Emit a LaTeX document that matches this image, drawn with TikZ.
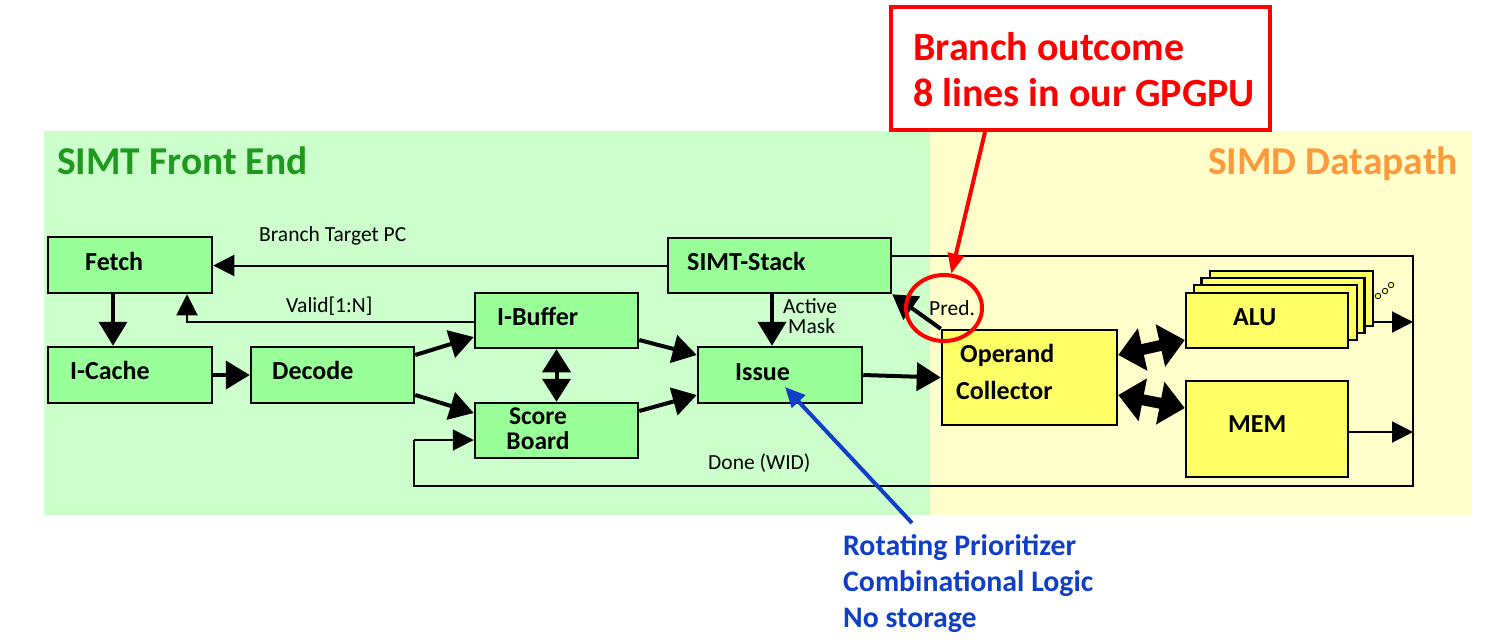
\documentclass[tikz,border=0pt]{standalone}
\usepackage{fontspec}
\setmainfont{Carlito}
\usetikzlibrary{arrows.meta,shapes.geometric}
\definecolor{bggreen}{HTML}{CCFFCC}
\definecolor{boxgreen}{HTML}{99FF99}
\definecolor{bgyellow}{HTML}{FFFFCC}
\definecolor{boxyellow}{HTML}{FFFF66}
\definecolor{titlegreen}{HTML}{1F9A1F}
\definecolor{titleorange}{HTML}{FF9A3C}
\definecolor{bluetext}{HTML}{0F3FC8}
\definecolor{redc}{HTML}{FF0000}
\begin{document}
\begin{tikzpicture}[x=1pt,y=-1pt,
  gbox/.style={draw=black, line width=2.5pt, fill=boxgreen, inner sep=0pt},
  ybox/.style={draw=black, line width=2.5pt, fill=boxyellow, inner sep=0pt},
  blabel/.style={font=\fontsize{26}{30}\selectfont\bfseries, inner sep=0pt, anchor=base west},
  slabel/.style={font=\fontsize{21.5}{25}\selectfont, inner sep=0pt, anchor=base west},
  tarrow/.style={line width=4pt, -{Triangle[length=24pt,width=28pt]}},
  tdarrow/.style={line width=4pt, {Triangle[length=23pt,width=28pt]}-{Triangle[length=23pt,width=28pt]}},
  narrow/.style={line width=2pt, -{Triangle[length=21pt,width=21pt]}},
  fatarrow/.style={line width=11pt, {Triangle[length=25pt,width=42pt]}-{Triangle[length=25pt,width=42pt]}},
  ]
\useasboundingbox (0,0) rectangle (1503,641);
% backgrounds
\fill[bggreen] (44,131) rectangle (930,515);
\fill[bgyellow] (930,131) rectangle (1472,515);
\node[font=\fontsize{39.5}{44}\selectfont\bfseries, text=titlegreen, inner sep=0pt, anchor=base west] (titleL) at (57,174) {SIMT Front End};
\node[font=\fontsize{39.5}{44}\selectfont\bfseries, text=titleorange, inner sep=0pt, anchor=base east] (titleR) at (1458,174) {SIMD Datapath};
% boxes
\node[gbox, minimum width=164pt, minimum height=56pt] (fetch) at (130,265) {};
\node[gbox, minimum width=164pt, minimum height=56pt] (icache) at (130,375) {};
\node[gbox, minimum width=163pt, minimum height=56pt] (decode) at (332.5,375) {};
\node[gbox, minimum width=163pt, minimum height=55pt] (ibuf) at (556.5,320.5) {};
\node[gbox, minimum width=163pt, minimum height=55pt] (score) at (556.5,430.5) {};
\node[gbox, minimum width=164pt, minimum height=56pt] (issue) at (780,375) {};
\node[gbox, minimum width=223pt, minimum height=55pt] (simt) at (779.5,265.5) {};
\node[ybox, minimum width=175pt, minimum height=95pt] (oc) at (1029.5,377.5) {};
\node[ybox, minimum width=163pt, minimum height=55pt] (alu4) at (1291.5,298.5) {};
\node[ybox, minimum width=163pt, minimum height=55pt] (alu3) at (1283,305.5) {};
\node[ybox, minimum width=163pt, minimum height=55pt] (alu2) at (1275.5,312.5) {};
\node[ybox, minimum width=162pt, minimum height=55pt] (alu) at (1267,320.5) {};
\node[ybox, minimum width=162pt, minimum height=96pt] (mem) at (1267,429) {};
% dots
\foreach \p/\n in {{(1378,296)}/d1,{(1385,291)}/d2,{(1391,285)}/d3}
  \node[circle, draw=black, line width=0.8pt, fill=boxyellow, minimum size=5.5pt, inner sep=0pt] (\n) at \p {};
% frame coordinates
\coordinate (fr1) at (1413,256);
\coordinate (fr2) at (1413,486);
\coordinate (fr3) at (414,486);
\coordinate (fr4) at (414,440);
\coordinate (aluout) at (1413,322);
\coordinate (memout) at (1413,432);
% frame
\draw[line width=2pt] ([yshift=9.5pt]simt.east) -- (fr1) -- (fr2) -- (fr3) -- (fr4);
\draw[narrow] (fr4) -- ([yshift=-9.5pt]score.west);
\draw[narrow] ([yshift=-23.5pt]alu4.east) -- (aluout);
\draw[narrow] ([yshift=-3pt]mem.east) -- (memout);
% thin arrows
\draw[narrow] (simt.west) -- (simt.west -| fetch.east);
\draw[narrow] ([yshift=-1.5pt]ibuf.west) -| ([xshift=57pt]fetch.south);
% thick arrows
\draw[tarrow] ([xshift=-17pt]fetch.south) -- ([xshift=-17pt]icache.north);
\draw[tarrow] (icache.east) -- (decode.west);
\draw[tarrow] ([yshift=20pt]decode.east) -- ([yshift=-16.5pt]ibuf.west);
\draw[tarrow] ([yshift=-20pt]decode.east) -- ([yshift=17.5pt]score.west);
\draw[tdarrow] (ibuf.south) -- (score.north);
\draw[tarrow] ([yshift=-19.5pt]ibuf.east) -- ([yshift=20pt]issue.west);
\draw[tarrow] ([yshift=19.5pt]score.east) -- ([yshift=-20pt]issue.west);
\draw[tarrow] ([xshift=-7.5pt]simt.south) -- ([xshift=-8pt]issue.north);
\draw[tarrow] (issue.east) -- (oc.west);
\draw[tarrow] (oc.north west) -- (simt.south east);
\draw[fatarrow] ([yshift=22.5pt]oc.east) -- ([yshift=-19.5pt]alu.west);
\draw[fatarrow] ([yshift=-17.5pt]oc.east) -- ([yshift=21pt]mem.west);
% box labels
\node[blabel] (fetchT) at (85,270) {Fetch};
\node[blabel] (icacheT) at (70,379) {I-Cache};
\node[blabel] (decodeT) at (272,379) {Decode};
\node[blabel] (ibufT) at (497,325) {I-Buffer};
\node[font=\fontsize{25.5}{25}\selectfont\bfseries, inner sep=0pt, align=center, anchor=center] (scoreT) at (538,429) {Score\\Board};
\node[blabel] (issueT) at (735,380) {Issue};
\node[blabel] (simtT) at (687,270) {SIMT-Stack};
\node[blabel] (ocT1) at (960,362) {Operand};
\node[blabel] (ocT2) at (956,399) {Collector};
\node[blabel] (aluT) at (1233,325) {ALU};
\node[blabel] (memT) at (1228,432) {MEM};
% small labels
\node[slabel] (btpc) at (259,241) {Branch Target PC};
\node[slabel] (valid) at (286,312) {Valid[1:N]};
\node[slabel] (act1) at (783,313) {Active};
\node[slabel] (act2) at (788,333) {Mask};
\node[slabel] (done) at (708,469) {Done (WID)};
\node[slabel] (pred) at (929,315) {Pred.};
% red callout
\node[draw=redc, line width=4pt, fill=white, minimum width=379pt, minimum height=123pt, inner sep=0pt] (redbox) at (1080.5,68.5) {};
\node[font=\fontsize{40}{46}\selectfont\bfseries, text=redc, inner sep=0pt, anchor=base west] (red1) at (913,60) {Branch outcome};
\node[font=\fontsize{40}{46}\selectfont\bfseries, text=redc, inner sep=0pt, anchor=base west] (red2) at (913,106) {8 lines in our GPGPU};
\node[ellipse, draw=redc, line width=4pt, minimum width=76pt, minimum height=66pt, inner sep=0pt] (predcirc) at (944,308) {};
\draw[redc, line width=4pt, -{Triangle[length=20pt,width=16pt]}] ([xshift=-95.5pt]redbox.south) -- (predcirc.78);
% blue annotation
\coordinate (bluetail) at (912,523);
\coordinate (bluehead) at (785,387);
\draw[bluetext, line width=4pt, -{Triangle[length=20pt,width=18pt]}] (bluetail) -- (bluehead);
\node[font=\fontsize{29.8}{36}\selectfont\bfseries, text=bluetext, inner sep=0pt, anchor=base west] (blue1) at (843,555) {Rotating Prioritizer};
\node[font=\fontsize{29.8}{36}\selectfont\bfseries, text=bluetext, inner sep=0pt, anchor=base west] (blue2) at (843,591) {Combinational Logic};
\node[font=\fontsize{29.8}{36}\selectfont\bfseries, text=bluetext, inner sep=0pt, anchor=base west] (blue3) at (843,627) {No storage};
\end{tikzpicture}
\end{document}
